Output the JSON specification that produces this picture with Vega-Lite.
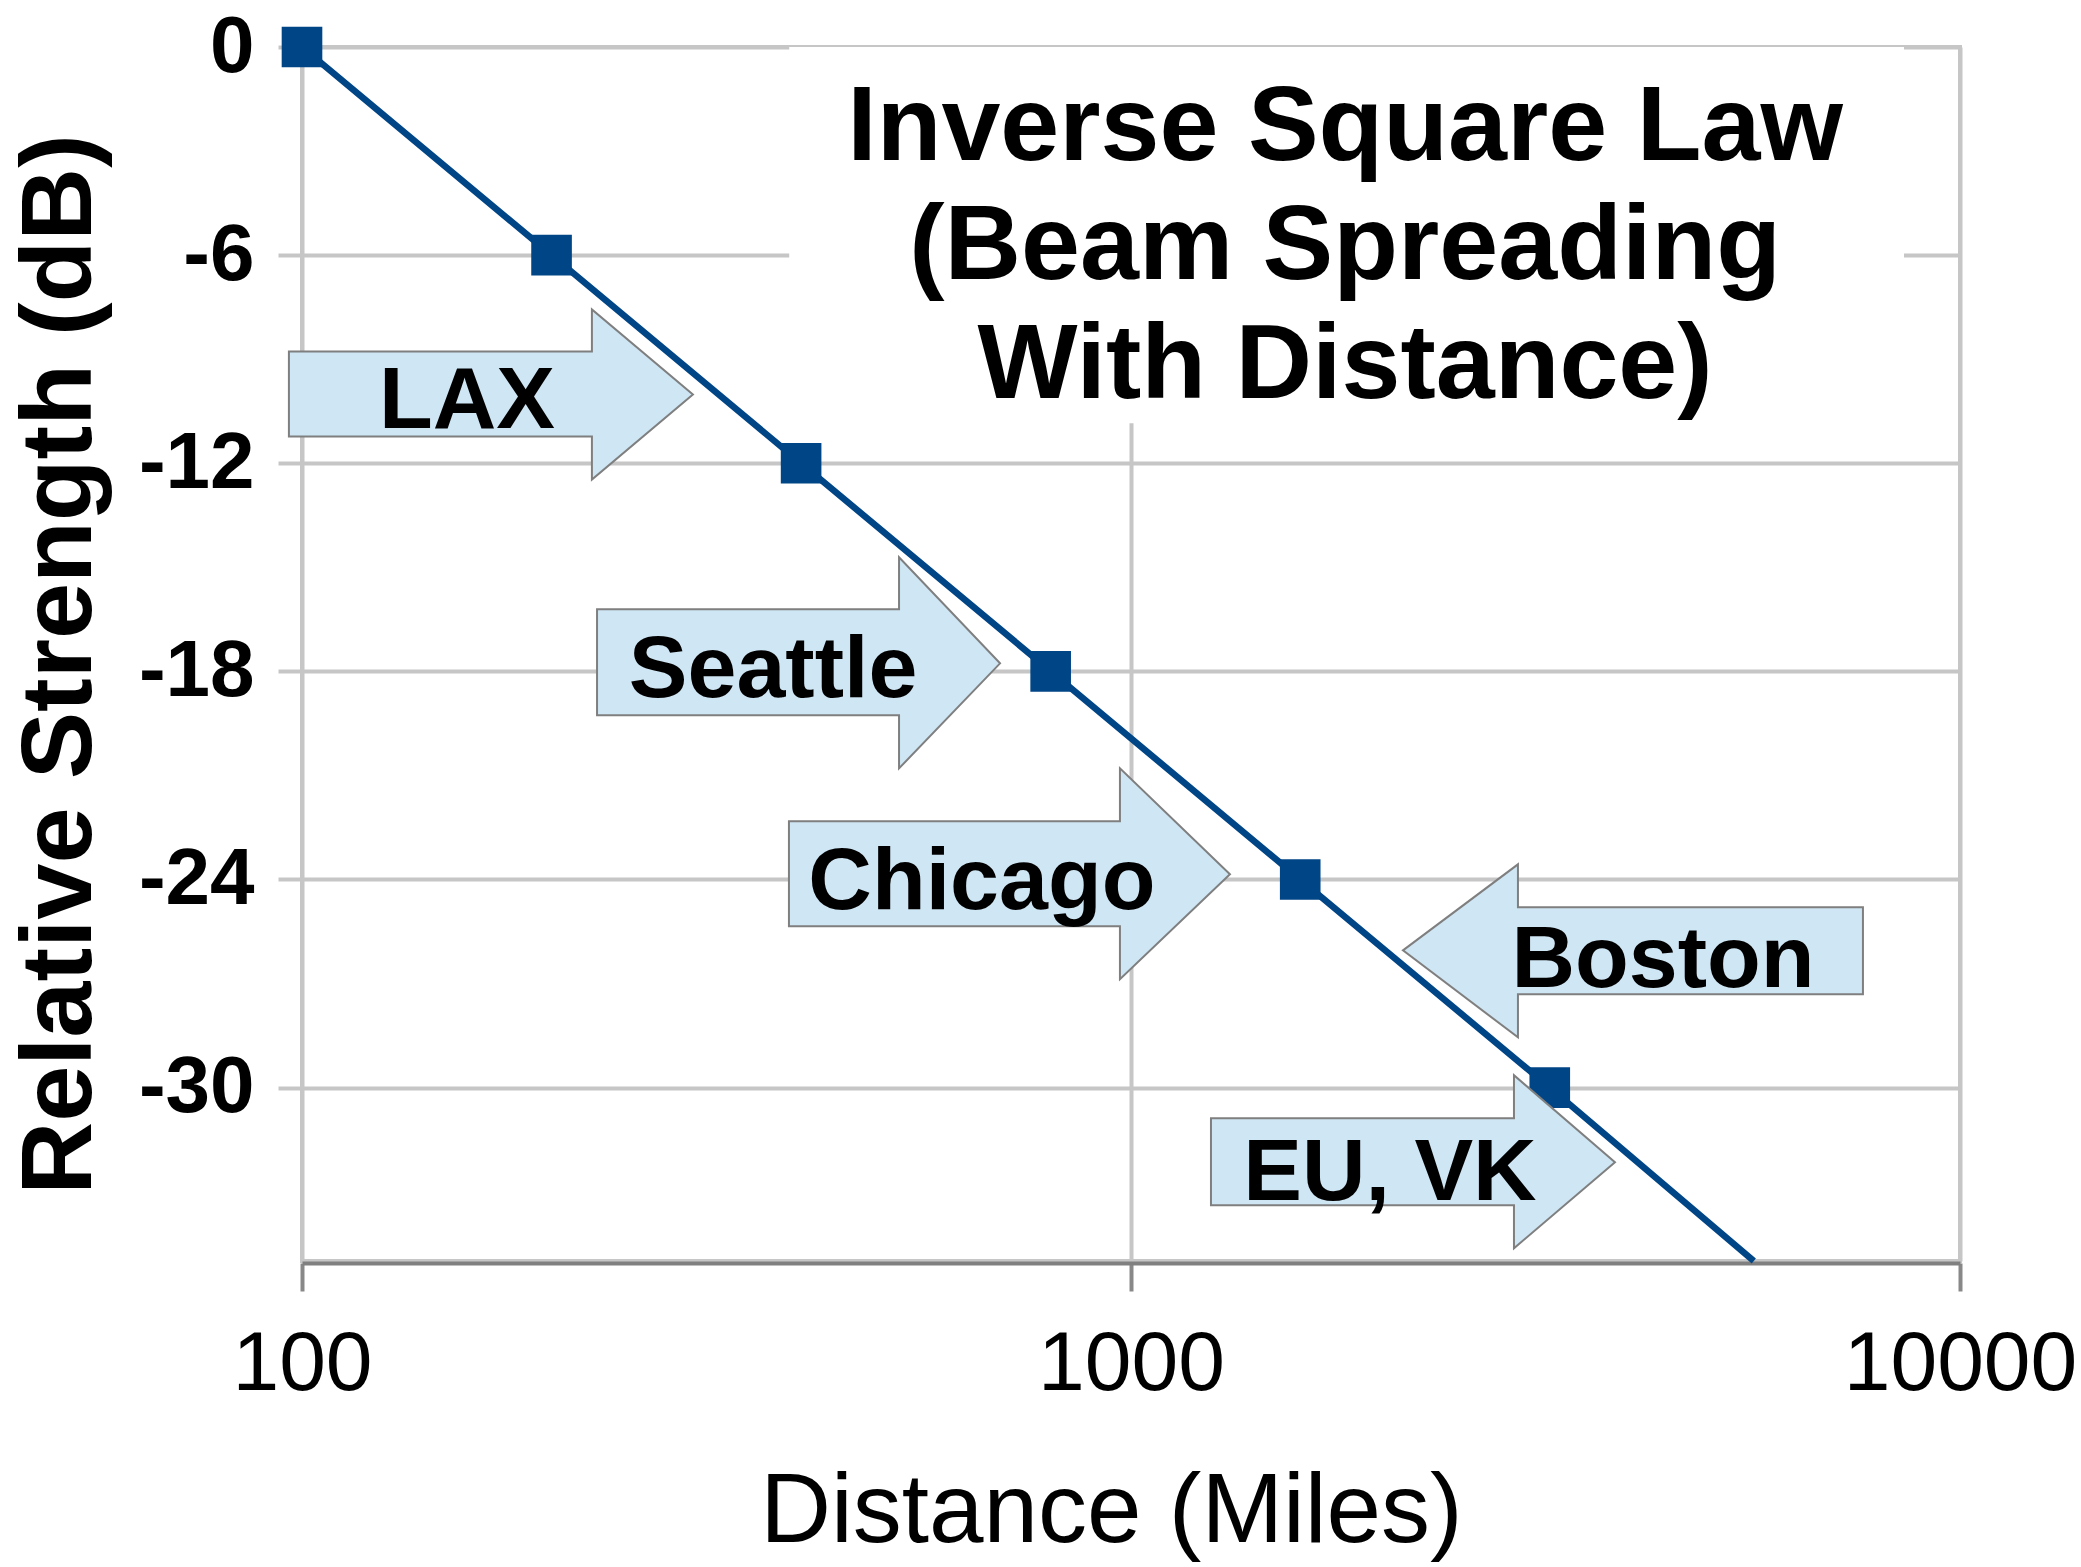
{
  "$schema": "https://vega.github.io/schema/vega-lite/v6.json",
  "width": 1658,
  "height": 1214,
  "autosize": {"type": "none"},
  "padding": {"left": 302, "top": 47, "right": 121, "bottom": 306},
  "background": "white",
  "config": {
    "view": {"stroke": "#c6c6c6", "strokeWidth": 4},
    "font": "Liberation Sans"
  },
  "datasets": {
    "curve": [
      {"distance": 100, "db": 0},
      {"distance": 200, "db": -6},
      {"distance": 400, "db": -12},
      {"distance": 800, "db": -18},
      {"distance": 1600, "db": -24},
      {"distance": 3200, "db": -30},
      {"distance": 5640, "db": -35}
    ],
    "arrows": [
      {"label": "LAX", "distance": 158.1, "db": -10.97},
      {"label": "Seattle", "distance": 370, "db": -18.75},
      {"label": "Chicago", "distance": 661, "db": -24.86},
      {"label": "Boston", "distance": 4382, "db": -27.11},
      {"label": "EU, VK", "distance": 2053, "db": -33.25}
    ],
    "heading": [
      {"text": "Inverse Square Law\n(Beam Spreading\nWith Distance)", "distance": 1812, "db": -3.27}
    ],
    "box": [
      {"distance": 387, "distance2": 8560, "db": -10.85, "db2": 0}
    ]
  },
  "encoding": {
    "x": {
      "field": "distance",
      "type": "quantitative",
      "title": "Distance (Miles)",
      "scale": {"type": "log", "domain": [100, 10000], "nice": false},
      "axis": {
        "values": [100, 1000, 10000],
        "format": "d",
        "grid": true,
        "gridColor": "#c6c6c6",
        "gridWidth": 4,
        "gridOpacity": 1,
        "domain": true,
        "domainColor": "#808080",
        "domainWidth": 4,
        "offset": 2,
        "ticks": true,
        "tickColor": "#888888",
        "tickWidth": 4,
        "tickSize": 28,
        "labelFont": "Liberation Sans",
        "labelFontSize": 84,
        "labelColor": "black",
        "labelPadding": 32,
        "labelLimit": 0,
        "labelFlush": false,
        "labelOverlap": false,
        "titleFont": "Liberation Sans",
        "titleFontSize": 98,
        "titleFontWeight": "normal",
        "titleColor": "black",
        "titleBaseline": "alphabetic",
        "titleLimit": 0,
        "titleX": 809,
        "titleY": 278
      }
    },
    "y": {
      "field": "db",
      "type": "quantitative",
      "title": "Relative Strength (dB)",
      "scale": {"domain": [-35, 0], "nice": false, "zero": false},
      "axis": {
        "values": [0, -6, -12, -18, -24, -30],
        "labelExpr": "replace(datum.label, '\u2212', '-')",
        "grid": true,
        "gridColor": "#c6c6c6",
        "gridWidth": 4,
        "gridOpacity": 1,
        "domain": false,
        "ticks": true,
        "tickColor": "#c6c6c6",
        "tickWidth": 4,
        "tickSize": 24,
        "labelFont": "Liberation Sans",
        "labelFontSize": 80,
        "labelFontWeight": "bold",
        "labelColor": "black",
        "labelPadding": 24,
        "labelLimit": 0,
        "labelOverlap": false,
        "labelFlush": false,
        "titleFont": "Liberation Sans",
        "titleFontSize": 101,
        "titleFontWeight": "bold",
        "titleColor": "black",
        "titleBaseline": "alphabetic",
        "titleLimit": 0,
        "titleAngle": -90,
        "titleX": -212,
        "titleY": 617
      }
    }
  },
  "layer": [
    {
      "data": {"name": "box"},
      "mark": {"type": "rect", "fill": "white", "stroke": null},
      "encoding": {
        "x2": {"field": "distance2"},
        "y2": {"field": "db2"}
      }
    },
    {
      "data": {"name": "curve"},
      "mark": {"type": "line", "color": "#004586", "strokeWidth": 6.5},
      "encoding": {}
    },
    {
      "data": {"name": "curve"},
      "transform": [{"filter": "datum.distance < 5000"}],
      "mark": {"type": "square", "size": 1650, "color": "#004586", "filled": true, "opacity": 1},
      "encoding": {}
    },
    {
      "data": {"name": "arrows"},
      "mark": {"type": "point", "filled": true, "fill": "#cfe6f4", "stroke": "#7f7f7f", "strokeWidth": 2, "opacity": 1, "size": 4},
      "encoding": {
        "shape": {
          "field": "label",
          "type": "nominal",
          "legend": null,
          "scale": {
            "domain": ["LAX", "Seattle", "Chicago", "Boston", "EU, VK"],
            "range": [
              "M-178,-76L125,-76L125,-118L226,-33L125,52L125,9L-178,9Z",
              "M-176,-88L126,-88L126,-140L227,-34L126,71L126,18L-176,18Z",
              "M-193,-88L138,-88L138,-141L248,-35L138,70L138,17L-193,17Z",
              "M-260,-37L-145,-123L-145,-80L200,-80L200,7L-145,7L-145,50Z",
              "M-179,-82L124,-82L124,-125L225,-38L124,48L124,5L-179,5Z"
            ]
          }
        }
      }
    },
    {
      "data": {"name": "arrows"},
      "mark": {"type": "text", "font": "Liberation Sans", "fontSize": 88, "fontWeight": "bold", "align": "center", "baseline": "alphabetic", "color": "black"},
      "encoding": {
        "text": {"field": "label", "type": "nominal"}
      }
    },
    {
      "data": {"name": "heading"},
      "mark": {"type": "text", "font": "Liberation Sans", "fontSize": 106, "fontWeight": "bold", "align": "center", "baseline": "alphabetic", "lineBreak": "\n", "lineHeight": 119, "color": "black"},
      "encoding": {
        "text": {"field": "text", "type": "nominal"}
      }
    }
  ]
}
